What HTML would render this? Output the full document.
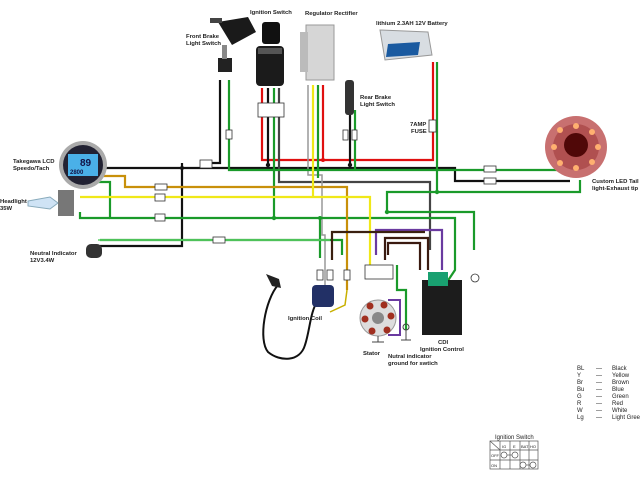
<!DOCTYPE html>
<html><head><meta charset="utf-8"><style>
html,body{margin:0;padding:0;background:#fff;width:640px;height:480px;overflow:hidden}
svg{display:block}
text{font-family:"Liberation Sans",sans-serif;font-size:5.9px;font-weight:bold;fill:#222}
.l{font-size:6px;font-weight:normal}
</style></head><body>
<svg width="640" height="480" viewBox="0 0 640 480" xmlns="http://www.w3.org/2000/svg">
<g fill="none" stroke-width="2.2" stroke-linejoin="miter">
<polyline stroke="#e01010" points="262,88 262,160 433,160 433,62"/>
<polyline stroke="#e01010" points="323,85 323,160"/>
<polyline stroke="#111" points="100,168 455,168 455,181 570,181"/>
<polyline stroke="#111" points="220,80 220,163 200,163"/>
<polyline stroke="#111" points="182,163 182,246 100,246"/>
<polyline stroke="#111" points="268,88 268,165"/>
<polyline stroke="#111" points="350,110 350,165"/>
<polyline stroke="#444" points="279,88 279,182 430,182 430,250"/>
<polyline stroke="#999" points="308,85 308,175 322,175 322,235 325,235 325,300" stroke-width="1.5"/>
<polyline stroke="#1a9a2a" points="229,80 229,170 580,170"/>
<polyline stroke="#1a9a2a" points="274,88 274,218"/>
<polyline stroke="#1a9a2a" points="318,85 318,178"/>
<polyline stroke="#1a9a2a" points="355,110 355,170"/>
<polyline stroke="#1a9a2a" points="437,62 437,192 387,192 387,212 474,212 474,250"/>
<polyline stroke="#1a9a2a" points="437,192 580,192 580,180"/>
<polyline stroke="#1a9a2a" points="95,182 110,182 110,218 320,218 320,258"/>
<polyline stroke="#1a9a2a" points="80,212 80,218 110,218"/>
<polyline stroke="#1a9a2a" points="320,218 455,218 455,270 445,285"/>
<polyline stroke="#1a9a2a" points="100,240 330,240 342,240 342,255"/>
<polyline stroke="#5fd06a" points="98,240 330,240" stroke-width="1.6"/>
<polyline stroke="#c8900a" points="95,176 125,176 125,187 347,187 347,290"/>
<polyline stroke="#f0e818" points="80,197 370,197 370,270"/>
<polyline stroke="#f0e818" points="313,85 313,197"/>
<polyline stroke="#c8b000" points="347,290 345,305 330,312" stroke-width="1.5"/>
<polyline stroke="#6a3aa0" points="376,255 376,230 442,230 442,270"/>
<polyline stroke="#6a3aa0" points="388,300 400,300 400,335 388,335" stroke-width="2"/>
<polyline stroke="#3a1a10" points="385,260 385,238 428,238 428,270"/>
<polyline stroke="#3a1a10" points="388,255 388,243 420,243 420,270" />
<polyline stroke="#3a2010" points="332,260 332,232 425,232"/>
<polyline stroke="#1a9a2a" points="397,265 397,290 406,290 406,330"/>
<path stroke="#111" stroke-width="2" d="M278,285 C265,300 258,340 268,352 C280,362 300,362 305,345 C310,330 310,312 318,300"/>
</g>
<g fill="#111"><circle cx="268" cy="165" r="2.2"/><circle cx="350" cy="165" r="2.2"/><circle cx="182" cy="168" r="2"/></g>
<g fill="#1a9a2a"><circle cx="274" cy="218" r="2.2"/><circle cx="437" cy="192" r="2.2"/><circle cx="387" cy="212" r="2.2"/><circle cx="320" cy="218" r="2"/></g>
<circle cx="323" cy="160" r="2" fill="#e01010"/>
<g fill="#fff" stroke="#333" stroke-width="0.8">
<rect x="200" y="160" width="12" height="8"/><rect x="155" y="184" width="12" height="6"/>
<rect x="155" y="194" width="10" height="7"/><rect x="155" y="214" width="10" height="7"/>
<rect x="213" y="237" width="12" height="6"/><rect x="226" y="130" width="6" height="9"/>
<rect x="258" y="103" width="26" height="14"/><rect x="343" y="130" width="5" height="10"/>
<rect x="352" y="130" width="5" height="10"/><rect x="429" y="120" width="7" height="12"/>
<rect x="484" y="166" width="12" height="6"/><rect x="484" y="178" width="12" height="6"/>
<rect x="365" y="265" width="28" height="14"/><rect x="317" y="270" width="6" height="10"/>
<rect x="327" y="270" width="6" height="10"/><rect x="344" y="270" width="6" height="10"/>
<circle cx="475" cy="278" r="4"/>
</g>
<g><path d="M218,22 L248,17 L256,32 L232,45 Z" fill="#1a1a1a"/><rect x="210" y="18" width="12" height="5" fill="#444"/>
<rect x="262" y="22" width="18" height="22" rx="3" fill="#111"/><rect x="256" y="46" width="28" height="40" rx="4" fill="#1b1b1b"/>
<rect x="258" y="48" width="24" height="6" fill="#555"/></g>
<rect x="218" y="58" width="14" height="14" fill="#222"/><rect x="222" y="45" width="5" height="14" fill="#888"/>
<rect x="306" y="25" width="28" height="55" fill="#d6d6d6" stroke="#999"/>
<rect x="300" y="32" width="8" height="40" fill="#bbb"/>
<rect x="345" y="80" width="9" height="35" rx="3" fill="#333"/>
<path d="M380,30 L428,32 L432,55 L385,60 Z" fill="#d8dde2" stroke="#999"/>
<path d="M388,44 L420,42 L418,55 L386,57 Z" fill="#1a5aa0"/>
<circle cx="576" cy="147" r="31" fill="#c87070"/><circle cx="576" cy="147" r="23" fill="#b05050"/>
<circle cx="576" cy="145" r="12" fill="#500808"/>
<g fill="#ffb070"><circle cx="560" cy="130" r="3"/><circle cx="576" cy="126" r="3"/><circle cx="592" cy="132" r="3"/><circle cx="598" cy="147" r="3"/><circle cx="592" cy="162" r="3"/><circle cx="576" cy="168" r="3"/><circle cx="560" cy="163" r="3"/><circle cx="554" cy="147" r="3"/></g>
<circle cx="83" cy="165" r="24" fill="#aaa"/><circle cx="83" cy="165" r="20" fill="#223"/>
<rect x="68" y="154" width="30" height="22" fill="#4ab0e8"/>
<text x="80" y="166" style="font-size:10px;fill:#114">89</text><text x="70" y="174" style="font-size:6px;fill:#114">2800</text>
<path d="M28,201 L50,197 L58,203 L50,209 L28,206 Z" fill="#cfe3f5" stroke="#8ab"/>
<rect x="58" y="190" width="16" height="26" fill="#777"/>
<rect x="86" y="244" width="16" height="14" rx="5" fill="#333"/>
<rect x="312" y="285" width="22" height="22" rx="4" fill="#223066"/>
<path d="M266,274 L279,279 L281,288 L272,286 Z" fill="#222"/>
<circle cx="378" cy="318" r="18" fill="#ddd" stroke="#999"/>
<circle cx="378" cy="318" r="6" fill="#888"/>
<g fill="#a03020"><circle cx="370" cy="306" r="3.5"/><circle cx="384" cy="305" r="3.5"/><circle cx="391" cy="316" r="3.5"/><circle cx="387" cy="330" r="3.5"/><circle cx="372" cy="331" r="3.5"/><circle cx="365" cy="319" r="3.5"/></g>
<rect x="422" y="280" width="40" height="55" fill="#1c1c1c"/>
<rect x="428" y="272" width="20" height="14" fill="#19a070"/>
<g stroke="#444" stroke-width="1" fill="none"><line x1="378" y1="336" x2="378" y2="342"/><line x1="372" y1="342" x2="384" y2="342"/>
<circle cx="406" cy="327" r="3"/><line x1="406" y1="330" x2="406" y2="340"/><line x1="401" y1="340" x2="411" y2="340"/></g>
<text x="250" y="14">Ignition Switch</text>
<text x="305" y="15">Regulator Rectifier</text>
<text x="376" y="25">lithium 2.3AH 12V Battery</text>
<text x="186" y="38">Front Brake</text><text x="186" y="45">Light Switch</text>
<text x="360" y="99">Rear Brake</text><text x="360" y="106">Light Switch</text>
<text x="410" y="126">7AMP</text><text x="411" y="133">FUSE</text>
<text x="592" y="183">Custom LED Tail</text><text x="592" y="190">light-Exhaust tip</text>
<text x="13" y="163">Takegawa LCD</text><text x="13" y="170">Speedo/Tach</text>
<text x="0" y="203">Headlight</text><text x="0" y="210">35W</text>
<text x="30" y="255">Neutral Indicator</text><text x="30" y="262">12V3.4W</text>
<text x="288" y="320">Ignition Coil</text>
<text x="363" y="355">Stator</text>
<text x="388" y="358">Nutral indicator</text><text x="388" y="365">ground for swtich</text>
<text x="438" y="344">CDI</text><text x="420" y="351">Ignition Control</text>
<g><text class="l" x="577" y="370">BL</text><text class="l" x="577" y="377">Y</text><text class="l" x="577" y="384">Br</text><text class="l" x="577" y="391">Bu</text><text class="l" x="577" y="398">G</text><text class="l" x="577" y="405">R</text><text class="l" x="577" y="412">W</text><text class="l" x="577" y="419">Lg</text>
<text class="l" x="596" y="370">—</text><text class="l" x="596" y="377">—</text><text class="l" x="596" y="384">—</text><text class="l" x="596" y="391">—</text><text class="l" x="596" y="398">—</text><text class="l" x="596" y="405">—</text><text class="l" x="596" y="412">—</text><text class="l" x="596" y="419">—</text>
<text class="l" x="612" y="370">Black</text><text class="l" x="612" y="377">Yellow</text><text class="l" x="612" y="384">Brown</text><text class="l" x="612" y="391">Blue</text><text class="l" x="612" y="398">Green</text><text class="l" x="612" y="405">Red</text><text class="l" x="612" y="412">White</text><text class="l" x="612" y="419">Light Gree</text></g>
<text x="495" y="439" class="l">Ignition Switch</text>
<g stroke="#555" stroke-width="0.7" fill="none">
<rect x="490" y="441" width="48" height="28"/><line x1="490" y1="450" x2="538" y2="450"/><line x1="490" y1="460" x2="538" y2="460"/>
<line x1="500" y1="441" x2="500" y2="469"/><line x1="510" y1="441" x2="510" y2="469"/><line x1="520" y1="441" x2="520" y2="469"/><line x1="529" y1="441" x2="529" y2="469"/>
<line x1="490" y1="441" x2="500" y2="450"/>
<circle cx="504" cy="455" r="3"/><circle cx="515" cy="455" r="3"/><line x1="507" y1="455" x2="512" y2="455"/>
<circle cx="523" cy="465" r="3"/><circle cx="533" cy="465" r="3"/><line x1="526" y1="465" x2="530" y2="465"/>
</g>
<g><text x="502" y="448" style="font-size:4px;font-weight:normal">IG</text><text x="513" y="448" style="font-size:4px;font-weight:normal">E</text><text x="521" y="448" style="font-size:4px;font-weight:normal">BAT</text><text x="530" y="448" style="font-size:4px;font-weight:normal">HO</text><text x="491" y="457" style="font-size:4px;font-weight:normal">OFF</text><text x="491" y="467" style="font-size:4px;font-weight:normal">ON</text></g>
</svg>
</body></html>
